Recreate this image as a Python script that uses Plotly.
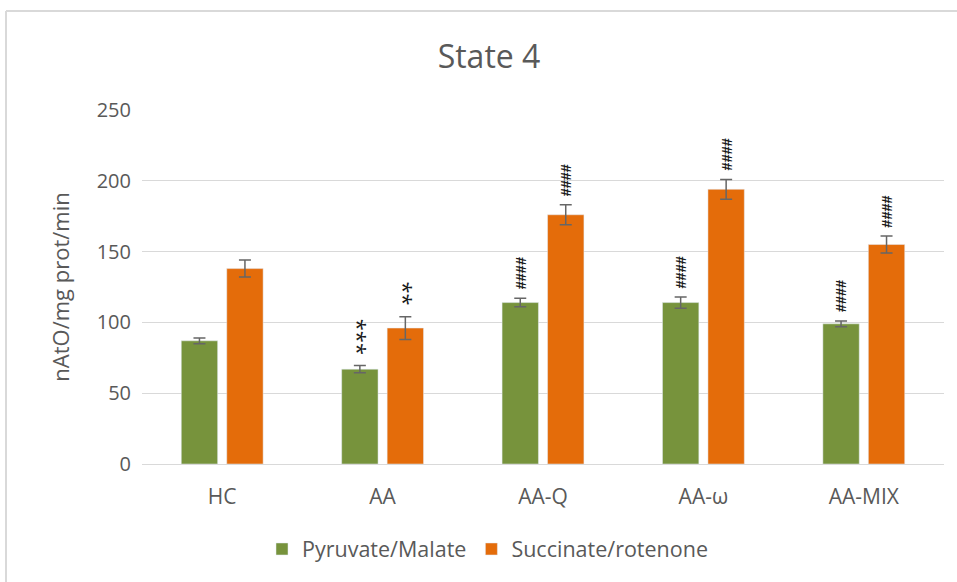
import plotly.graph_objects as go

# Groups and measured means / error (nAtO per mg protein per minute)
groups = ["HC", "AA", "AA-Q", "AA-ω", "AA-MIX"]
pyruvate_malate = [87, 67, 114, 114, 99]
pyruvate_malate_err = [2, 2.5, 3, 4, 2]
succinate_rotenone = [138, 96, 176, 194, 155]
succinate_rotenone_err = [6, 8, 7, 7, 6]

# Significance marks drawn above each bar ("" = none)
pm_marks = ["", "***", "####", "####", "####"]
sr_marks = ["", "**", "####", "####", "####"]

GREEN = "#77933C"
ORANGE = "#E46C0A"
TEXT = "#595959"
GRID = "#D9D9D9"
FONT = "Open Sans"

W, H = 957, 582
M_L, M_R, M_T, M_B = 142, 13, 110, 118
BARGAP, GROUPGAP = 0.433, 0.2

fig = go.Figure()
fig.add_trace(go.Bar(
    name="Pyruvate/Malate", x=groups, y=pyruvate_malate, marker_color=GREEN,
    error_y=dict(type="data", array=pyruvate_malate_err, color="#666666",
                 thickness=1.5, width=6),
))
fig.add_trace(go.Bar(
    name="Succinate/rotenone", x=groups, y=succinate_rotenone, marker_color=ORANGE,
    error_y=dict(type="data", array=succinate_rotenone_err, color="#666666",
                 thickness=1.5, width=6),
))

# horizontal offset of each bar centre from its category centre, in px
plot_w = W - M_L - M_R
cat_w = plot_w / len(groups)
bar_offset = cat_w * (1 - BARGAP) / 4

for vals, errs, marks, sign in [
    (pyruvate_malate, pyruvate_malate_err, pm_marks, -1),
    (succinate_rotenone, succinate_rotenone_err, sr_marks, 1),
]:
    for g, v, e, m in zip(groups, vals, errs, marks):
        if not m:
            continue
        is_hash = m.startswith("#")
        fig.add_annotation(
            x=g, y=v + e, xref="x", yref="y",
            text=f"<b>{m}</b>" if is_hash else m, showarrow=False,
            textangle=90, xshift=sign * bar_offset, yanchor="bottom",
            yshift=7 if is_hash else 9,
            font=dict(family="Liberation Sans" if is_hash else FONT,
                      size=14.5 if is_hash else 22, color="#1a1a1a"),
        )

# light frame around the chart area
px_x = lambda p: (p - M_L) / plot_w
plot_h = H - M_T - M_B
px_y = lambda p: (H - M_B - p) / plot_h
frame = dict(color=GRID, width=2)
fig.add_shape(type="line", xref="paper", yref="paper", x0=px_x(6), x1=px_x(960),
              y0=px_y(11), y1=px_y(11), line=frame)
fig.add_shape(type="line", xref="paper", yref="paper", x0=px_x(6), x1=px_x(6),
              y0=px_y(11), y1=px_y(590), line=frame)

fig.update_layout(
    width=W, height=H,
    margin=dict(l=M_L, r=M_R, t=M_T, b=M_B),
    paper_bgcolor="white", plot_bgcolor="white",
    barmode="group", bargap=BARGAP, bargroupgap=GROUPGAP,
    font=dict(family=FONT, color=TEXT, size=20),
    title=dict(text="State 4", x=px_x(489), xref="paper", xanchor="center",
               y=1 - 57 / H, yanchor="middle",
               font=dict(family=FONT, size=32, color=TEXT)),
    showlegend=True,
    legend=dict(orientation="h", x=px_x(262), xanchor="left", y=px_y(549),
                yanchor="middle", font=dict(family=FONT, size=21.5, color=TEXT),
                itemwidth=30, bgcolor="rgba(0,0,0,0)"),
)
fig.update_xaxes(showgrid=False, showline=True, linecolor=GRID, linewidth=1,
                 ticks="", ticklabelstandoff=14,
                 tickfont=dict(family=FONT, size=21, color=TEXT))
fig.update_yaxes(range=[0, 250], dtick=50, showgrid=True, gridcolor=GRID,
                 gridwidth=1, zeroline=False, showline=False, ticks="",
                 ticklabelstandoff=10,
                 tickfont=dict(family=FONT, size=20, color=TEXT),
                 title=dict(text="nAtO/mg prot/min", standoff=20,
                            font=dict(family=FONT, size=22, color=TEXT)))

fig.write_html("out.html")
